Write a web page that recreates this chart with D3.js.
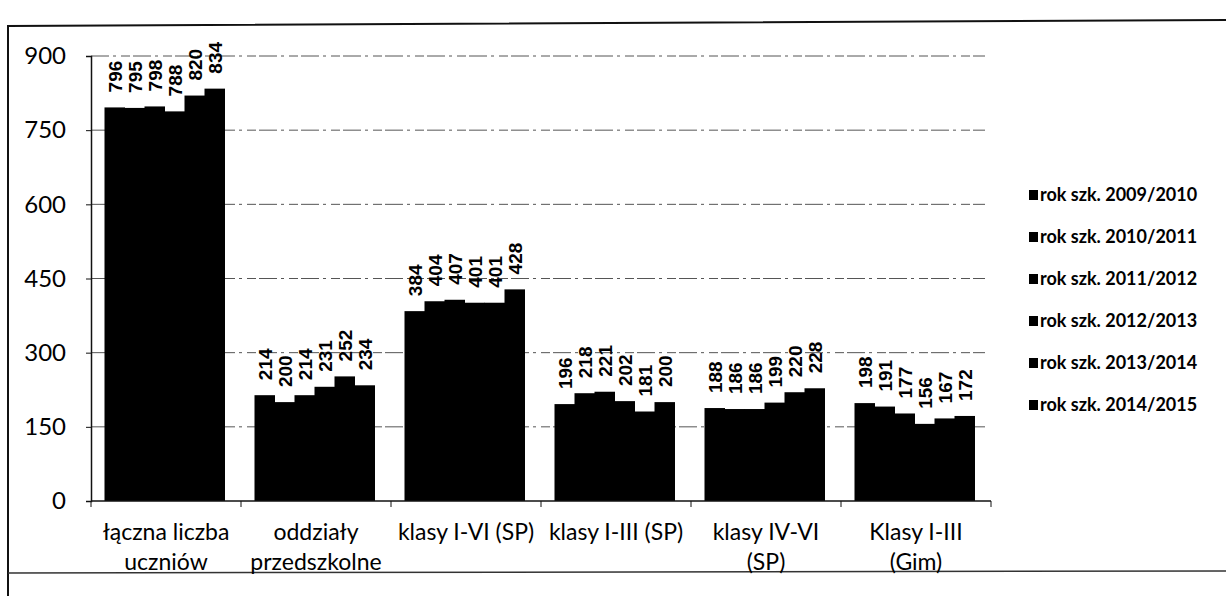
<!DOCTYPE html>
<html>
<head>
<meta charset="utf-8">
<script src="https://cdn.jsdelivr.net/npm/d3@7"></script>
<style>
  body { margin: 0; background: #fff; }
  svg { display: block; }
</style>
</head>
<body>
<script>
// dane
let kategorie = ["łączna liczba uczniów", "oddziały przedszkolne", "klasy I-VI (SP)",
    "klasy I-III (SP)", "klasy IV-VI (SP)", "Klasy I-III (Gim)"];
let etykietyKategorii = [["łączna liczba", "uczniów"], ["oddziały", "przedszkolne"], ["klasy I-VI (SP)"],
    ["klasy I-III (SP)"], ["klasy IV-VI", "(SP)"], ["Klasy I-III", "(Gim)"]];
let lata = ["rok szk. 2009/2010", "rok szk. 2010/2011", "rok szk. 2011/2012",
    "rok szk. 2012/2013", "rok szk. 2013/2014", "rok szk. 2014/2015"];
let rok2009 = [796, 214, 384, 196, 188, 198];
let rok2010 = [795, 200, 404, 218, 186, 191];
let rok2011 = [798, 214, 407, 221, 186, 177];
let rok2012 = [788, 231, 401, 202, 199, 156];
let rok2013 = [820, 252, 401, 181, 220, 167];
let rok2014 = [834, 234, 428, 200, 228, 172];
let serie = [rok2009, rok2010, rok2011, rok2012, rok2013, rok2014];
let ticksY = [0, 150, 300, 450, 600, 750, 900];

let width = 1226;
let height = 596;

let svg = d3.select("body").append("svg")
    .attr("width", width)
    .attr("height", height);

// ramka (skan: lewa, górna i dolna krawędź)
svg.append("path")
    .attr("d", "M1226,20 L8,26 L8,596")
    .attr("fill", "none")
    .attr("stroke", "#111")
    .attr("stroke-width", 2);
svg.append("line")
    .attr("x1", 8).attr("x2", 1226)
    .attr("y1", 573).attr("y2", 571)
    .attr("stroke", "#333")
    .attr("stroke-width", 1.5);

let x0 = d3.scaleBand()
    .domain(kategorie)
    .range([91, 991])
    .padding(0);

let x1 = d3.scaleBand()
    .domain(lata)
    .range([x0.bandwidth() * 0.09, x0.bandwidth() * 0.89])
    .padding(0);

let y = d3.scaleLinear()
    .domain([0, 900])
    .range([501, 56]);

// linie siatki
svg.append("g")
    .selectAll("line")
    .data(ticksY.slice(1))
    .enter()
    .append("line")
    .attr("x1", 91)
    .attr("x2", 985)
    .attr("y1", d => y(d))
    .attr("y2", d => y(d))
    .attr("stroke", "#555")
    .attr("stroke-width", 1)
    .attr("stroke-dasharray", "18,4,3,5,9,3");

// oś Y
let osY = svg.append("g")
    .attr("transform", "translate(91,0)")
    .call(d3.axisLeft(y).tickValues(ticksY).tickSize(5).tickPadding(20));
osY.select(".domain").attr("stroke", "#111").attr("stroke-width", 1.5);
osY.selectAll("line").attr("stroke", "#111");
osY.selectAll("text")
    .style("font-family", "Lato, 'Open Sans', sans-serif")
    .style("font-size", "24px")
    .attr("fill", "#000");

// słupki
let grupy = svg.append("g")
    .selectAll("g")
    .data(kategorie)
    .enter()
    .append("g")
    .attr("transform", d => "translate(" + x0(d) + ",0)");

grupy.selectAll("rect")
    .data((d, i) => lata.map((rok, j) => ({ rok: rok, wartosc: serie[j][i] })))
    .enter()
    .append("rect")
    .attr("x", d => x1(d.rok))
    .attr("y", d => y(d.wartosc))
    .attr("width", x1.bandwidth() + 0.5)
    .attr("height", d => y(0) - y(d.wartosc))
    .attr("fill", "#000");

// etykiety wartości (pionowe)
grupy.selectAll("text")
    .data((d, i) => lata.map((rok, j) => ({ rok: rok, wartosc: serie[j][i] })))
    .enter()
    .append("text")
    .attr("transform", d => "translate(" + (x1(d.rok) + x1.bandwidth() / 2 + 7) + "," + (y(d.wartosc) - 15) + ") rotate(-90)")
    .text(d => d.wartosc)
    .style("font-family", "'Liberation Sans', Arial, sans-serif")
    .style("font-weight", "bold")
    .style("font-size", "19px")
    .attr("fill", "#000");

// oś X
let osX = svg.append("g")
    .attr("transform", "translate(0," + y(0) + ")");
osX.append("line")
    .attr("x1", 91).attr("x2", 991)
    .attr("y1", 0).attr("y2", 0)
    .attr("stroke", "#111")
    .attr("stroke-width", 1.5);
osX.selectAll(".tick")
    .data(kategorie.map(d => x0(d)).concat([991]))
    .enter()
    .append("line")
    .attr("x1", d => d).attr("x2", d => d)
    .attr("y1", 0).attr("y2", 6)
    .attr("stroke", "#111");

osX.selectAll(".etykieta")
    .data(kategorie)
    .enter()
    .append("text")
    .attr("class", "etykieta")
    .attr("x", d => x0(d) + x0.bandwidth() / 2)
    .attr("y", 39)
    .style("text-anchor", "middle")
    .style("font-family", "Lato, 'Open Sans', sans-serif")
    .style("font-size", "23px")
    .attr("fill", "#000")
    .each(function(d, i) {
        let t = d3.select(this);
        etykietyKategorii[i].forEach((linia, k) => {
            t.append("tspan")
                .attr("x", x0(d) + x0.bandwidth() / 2)
                .attr("dy", k === 0 ? 0 : 30)
                .text(linia);
        });
    });

// legenda
let legenda = svg.append("g")
    .selectAll("g")
    .data(lata)
    .enter()
    .append("g")
    .attr("transform", (d, i) => "translate(1029," + (195 + i * 42) + ")");

legenda.append("rect")
    .attr("x", 0)
    .attr("y", -5)
    .attr("width", 9)
    .attr("height", 10)
    .attr("fill", "#000");

legenda.append("text")
    .attr("x", 11)
    .attr("y", 6)
    .text(d => d)
    .style("font-family", "Lato, 'Open Sans', sans-serif")
    .style("font-weight", "bold")
    .style("font-size", "18px")
    .attr("fill", "#000");
</script>
</body>
</html>
